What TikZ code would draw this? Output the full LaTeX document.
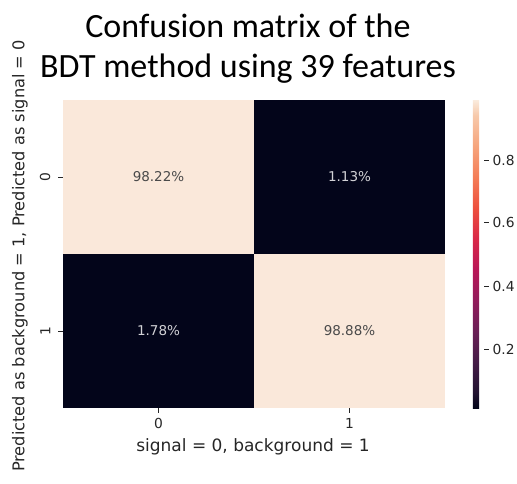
\documentclass[tikz,border=0pt]{standalone}
\usepackage{fontspec}
\setmainfont{DejaVu Sans}
\newfontfamily\titlefont{Carlito}

% rocket colour map
\definecolor{rk0}{HTML}{03051A}
\definecolor{rk1}{HTML}{221331}
\definecolor{rk2}{HTML}{451C47}
\definecolor{rk3}{HTML}{6A1F56}
\definecolor{rk4}{HTML}{921C5B}
\definecolor{rk5}{HTML}{B91657}
\definecolor{rk6}{HTML}{D92847}
\definecolor{rk7}{HTML}{ED503E}
\definecolor{rk8}{HTML}{F47D57}
\definecolor{rk9}{HTML}{F6A47C}
\definecolor{rk10}{HTML}{F7C9AA}
\definecolor{rk11}{HTML}{FAEBDD}
\definecolor{cellhi}{HTML}{FAE8DA}
\definecolor{celllo}{HTML}{03051A}
\definecolor{inkdark}{HTML}{4A4A4A}
\definecolor{inklight}{HTML}{D2D2D6}
\definecolor{axisink}{HTML}{262626}

\pgfdeclareverticalshading{rocket}{20bp}{
    color(0bp)=(rk0); color(25bp)=(rk0);
    color(27.5bp)=(rk1); color(32.5bp)=(rk2); color(37.5bp)=(rk3);
    color(42.5bp)=(rk4); color(47.5bp)=(rk5); color(52.5bp)=(rk6);
    color(57.5bp)=(rk7); color(62.5bp)=(rk8); color(67.5bp)=(rk9);
    color(72.5bp)=(rk10); color(75bp)=(rk11); color(100bp)=(rk11)}

\begin{document}
\begin{tikzpicture}[
            x=1pt, y=-1pt,
            cell/.style={
                rectangle,
                minimum width=191pt,
                minimum height=154pt,
                inner sep=0pt,
                font=\fontsize{13.5}{16}\selectfont
            },
            ticklabel/.style={
                text=axisink,
                inner sep=0pt,
                font=\fontsize{13.8}{16}\selectfont
            },
            axislabel/.style={
                text=axisink,
                inner sep=0pt,
                font=\fontsize{17}{20}\selectfont
            }
        ]
            \useasboundingbox (0,0) rectangle (517,483);

            % title
            \node[font=\titlefont\fontsize{34}{40}\selectfont, anchor=base]
                (title1) at (248,37) {Confusion matrix of the};
            \node[font=\titlefont\fontsize{34}{40}\selectfont, anchor=base]
                (title2) at (248,77) {BDT method using 39 features};

            % heat map
            \node[cell, fill=cellhi, text=inkdark] (c00) at (158.5,177) {98.22\%};
            \node[cell, fill=celllo, text=inklight] (c01) at (349.5,177) {1.13\%};
            \node[cell, fill=celllo, text=inklight] (c10) at (158.5,331) {1.78\%};
            \node[cell, fill=cellhi, text=inkdark] (c11) at (349.5,331) {98.88\%};

            % ticks
            \draw[axisink, line width=0.8pt] (c10.south) -- ++(0,5)
                node[ticklabel, below=5pt] (x0) {0};
            \draw[axisink, line width=0.8pt] (c11.south) -- ++(0,5)
                node[ticklabel, below=5pt] (x1) {1};
            \draw[axisink, line width=0.8pt] (c00.west) -- ++(-5,0)
                node[ticklabel, left=7pt, rotate=90, anchor=south] (y0) {0};
            \draw[axisink, line width=0.8pt] (c10.west) -- ++(-5,0)
                node[ticklabel, left=7pt, rotate=90, anchor=south] (y1) {1};

            \node[axislabel] (xlabel) at (253,447) {signal = 0, background = 1};
            \node[axislabel, font=\fontsize{16.2}{20}\selectfont, rotate=90] (ylabel) at (20,256)
                {Predicted as background = 1, Predicted as signal = 0};

            % colour bar
            \node[rectangle, minimum width=16pt, minimum height=308pt, inner sep=0pt,
                shading=rocket] (cbar) at (476,254) {};
            \foreach \v/\y in {0.8/160, 0.6/222, 0.4/286, 0.2/349} {
                \draw[axisink, line width=0.8pt] (cbar.east |- 0,\y) -- ++(5,0)
                    node[ticklabel, right=3pt] {\v};
            }

        \end{tikzpicture}
\end{document}
